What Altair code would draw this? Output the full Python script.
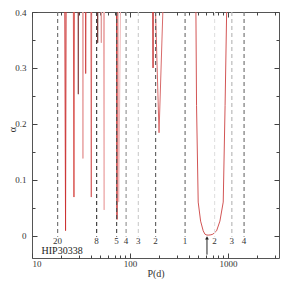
import altair as alt
import pandas as pd

# ---------------- data ----------------
# red detection-limit curve, drawn as segments (period in days, alpha)
seg_d1_p = [21.6, 22.0, 22.3];   seg_d1_a = [0.45, 0.009, 0.45]
seg_d2_p = [26.4, 26.8, 27.1];   seg_d2_a = [0.45, 0.069, 0.45]
seg_d3_p = [29.5, 29.7, 29.9];   seg_d3_a = [0.45, 0.253, 0.45]
seg_d4_p = [32.8, 33.1, 33.4];   seg_d4_a = [0.45, 0.138, 0.45]
seg_d5_p = [35.1, 35.3, 35.6];   seg_d5_a = [0.45, 0.29, 0.45]
seg_d6_p = [39.9, 40.3, 40.7];   seg_d6_a = [0.45, 0.069, 0.45]
seg_d7_p = [46.5, 46.8, 47.1];   seg_d7_a = [0.45, 0.345, 0.45]
seg_d8_p = [50.6, 51.0, 51.3];   seg_d8_a = [0.45, 0.345, 0.45]
seg_d9_p = [53.4, 54.5, 55.0];   seg_d9_a = [0.45, 0.046, 0.45]
seg_d10_p = [72.8, 73.7, 74.1];  seg_d10_a = [0.45, 0.029, 0.45]
seg_d11_p = [75.9, 76.7, 80.5];  seg_d11_a = [0.45, 0.060, 0.45]
seg_d12_p = [170.0, 172.0, 173.5]; seg_d12_a = [0.45, 0.30, 0.45]
seg_d13_p = [179.0, 198.0, 221.0]; seg_d13_a = [0.45, 0.184, 0.45]
seg_u_p = [468, 471, 478, 497, 526, 559, 582, 610, 639, 670, 702, 766, 828, 895, 935, 970, 975]
seg_u_a = [0.45, 0.40, 0.233, 0.060, 0.026, 0.0086, 0.0026, 0.001, 0.001, 0.0015,
           0.0026, 0.0086, 0.026, 0.060, 0.233, 0.40, 0.45]

segments = {
    "d1": (seg_d1_p, seg_d1_a), "d2": (seg_d2_p, seg_d2_a), "d3": (seg_d3_p, seg_d3_a),
    "d4": (seg_d4_p, seg_d4_a), "d5": (seg_d5_p, seg_d5_a), "d6": (seg_d6_p, seg_d6_a),
    "d7": (seg_d7_p, seg_d7_a), "d8": (seg_d8_p, seg_d8_a), "d9": (seg_d9_p, seg_d9_a),
    "d10": (seg_d10_p, seg_d10_a), "d11": (seg_d11_p, seg_d11_a), "d12": (seg_d12_p, seg_d12_a),
    "d13": (seg_d13_p, seg_d13_a), "u": (seg_u_p, seg_u_a),
}
seg_names = list(segments.keys())
seg_colors = ["#cc3333", "#d9534f", "#8c4a4a", "#e8a0a0", "#d04848", "#d86464", "#7a3a3a",
              "#e09a9a", "#eeb0b0", "#c83838", "#f0b8b8", "#c83c3c", "#d86a6a", "#d25555"]

# one-year harmonics (dashed lines) and their labels
rule_period = [18.26, 45.66, 73.05, 91.31, 121.75, 182.6, 365.25, 730.5, 1095.75, 1461.0]
rule_label = ["20", "8", "5", "4", "3", "2", "1", "2", "3", "4"]
rule_color = ["#777777", "#444444", "#555555", "#999999", "#d0d0d0", "#666666",
              "#777777", "#e2e2e2", "#bbbbbb", "#777777"]

star_name = ["HIP30338"]
star_period = [20.3]
star_alpha = [-0.028]

arrow_period = [611]
arrow_bottom = [-0.034]
arrow_top = [-0.004]

rule_top = 0.4
rule_bottom = -0.002
label_alpha = -0.009

major_x = [10, 100, 1000]
minor_x = [20, 30, 40, 50, 60, 70, 80, 90, 200, 300, 400, 500, 600, 700, 800, 900, 2000, 3000]
major_y = [0, 0.1, 0.2, 0.3, 0.4]
minor_y = [0.05, 0.15, 0.25, 0.35]

# ---------------- tables ----------------
rows = []
for name in seg_names:
    ps, als = segments[name]
    for i, (p, a) in enumerate(zip(ps, als)):
        rows.append({"P": p, "alpha": a, "seg": name, "order": i})
curve_df = pd.DataFrame(rows)

rules_df = pd.DataFrame({"P": rule_period, "label": rule_label, "color": rule_color,
                         "top": [rule_top] * len(rule_period),
                         "bottom": [rule_bottom] * len(rule_period),
                         "ly": [label_alpha] * len(rule_period)})
star_df = pd.DataFrame({"P": star_period, "alpha": star_alpha, "name": star_name})
arrow_df = pd.DataFrame({"P": arrow_period, "lo": arrow_bottom, "hi": arrow_top})

FONT = "Liberation Serif"
AX = "#444444"
xscale = alt.Scale(type="log", domain=[10, 3320], nice=False)
yscale = alt.Scale(domain=[-0.04, 0.4], nice=False, zero=False)


def axis(orient, values, size, labels=False, fmt=None, title=None, lpad=2, extra=None):
    kw = dict(orient=orient, values=values, tickSize=size, offset=-size, labels=labels,
              domain=False, grid=False, ticks=True, tickColor=AX, tickWidth=1,
              title=title)
    if labels:
        kw.update(labelFont=FONT, labelFontSize=9, labelColor="#333333",
                  labelPadding=lpad, format=fmt)
    if title:
        kw.update(titleFont=FONT, titleFontSize=10, titleFontWeight="normal",
                  titleColor="#333333")
    if extra:
        kw.update(extra)
    return alt.Axis(**kw)


curve = alt.Chart(curve_df).mark_line(strokeWidth=1, clip=True).encode(
    x=alt.X("P:Q", scale=xscale,
            axis=axis("bottom", major_x, 5, labels=True, fmt="d", title="P(d)", lpad=1,
                      extra={"titlePadding": 0})),
    y=alt.Y("alpha:Q", scale=yscale,
            axis=axis("left", major_y, 5, labels=True, fmt="~g", title="α", lpad=6,
                      extra={"titleX": -25, "titleY": 117, "titleBaseline": "middle",
                             "titleAlign": "center", "titleAngle": 270})),
    detail="seg:N",
    order="order:Q",
    color=alt.Color("seg:N", scale=alt.Scale(domain=seg_names, range=seg_colors), legend=None),
)

rules = alt.Chart(rules_df).mark_rule(strokeDash=[4, 3], strokeWidth=1.2).encode(
    x=alt.X("P:Q", scale=xscale, axis=axis("bottom", minor_x, 3)),
    y=alt.Y("top:Q", scale=yscale, axis=axis("left", minor_y, 3)),
    y2="bottom:Q",
    color=alt.Color("color:N", scale=None),
)

rule_text = alt.Chart(rules_df).mark_text(font=FONT, fontSize=9, color="#333333",
                                           baseline="middle", align="center").encode(
    x=alt.X("P:Q", scale=xscale, axis=axis("top", major_x, 5)),
    y=alt.Y("ly:Q", scale=yscale, axis=axis("right", major_y, 5)),
    text="label:N",
)

arrow_line = alt.Chart(arrow_df).mark_rule(color="#222222", strokeWidth=1).encode(
    x=alt.X("P:Q", scale=xscale, axis=axis("top", minor_x, 3)),
    y=alt.Y("lo:Q", scale=yscale, axis=axis("right", minor_y, 3)),
    y2="hi:Q",
)

arrow_head = alt.Chart(arrow_df).mark_point(shape="triangle-up", filled=True, size=14,
                                            color="#222222", opacity=1).encode(
    x=alt.X("P:Q", scale=xscale, axis=None),
    y=alt.Y("hi:Q", scale=yscale, axis=None),
)

star = alt.Chart(star_df).mark_text(font=FONT, fontSize=10, color="#222222",
                                    baseline="middle", align="center").encode(
    x=alt.X("P:Q", scale=xscale, axis=None),
    y=alt.Y("alpha:Q", scale=yscale, axis=None),
    text="name:N",
)

chart = alt.layer(curve, rules, rule_text, arrow_line, arrow_head, star).resolve_axis(
    x="independent", y="independent"
).properties(
    width=247, height=246,
    padding={"left": 24, "top": 4, "right": 1, "bottom": 21},
    autosize=alt.AutoSizeParams(type="none"),
).configure_view(stroke="#555555", strokeWidth=1)

chart.save("out.html", embed_options={"renderer": "svg", "actions": False})
